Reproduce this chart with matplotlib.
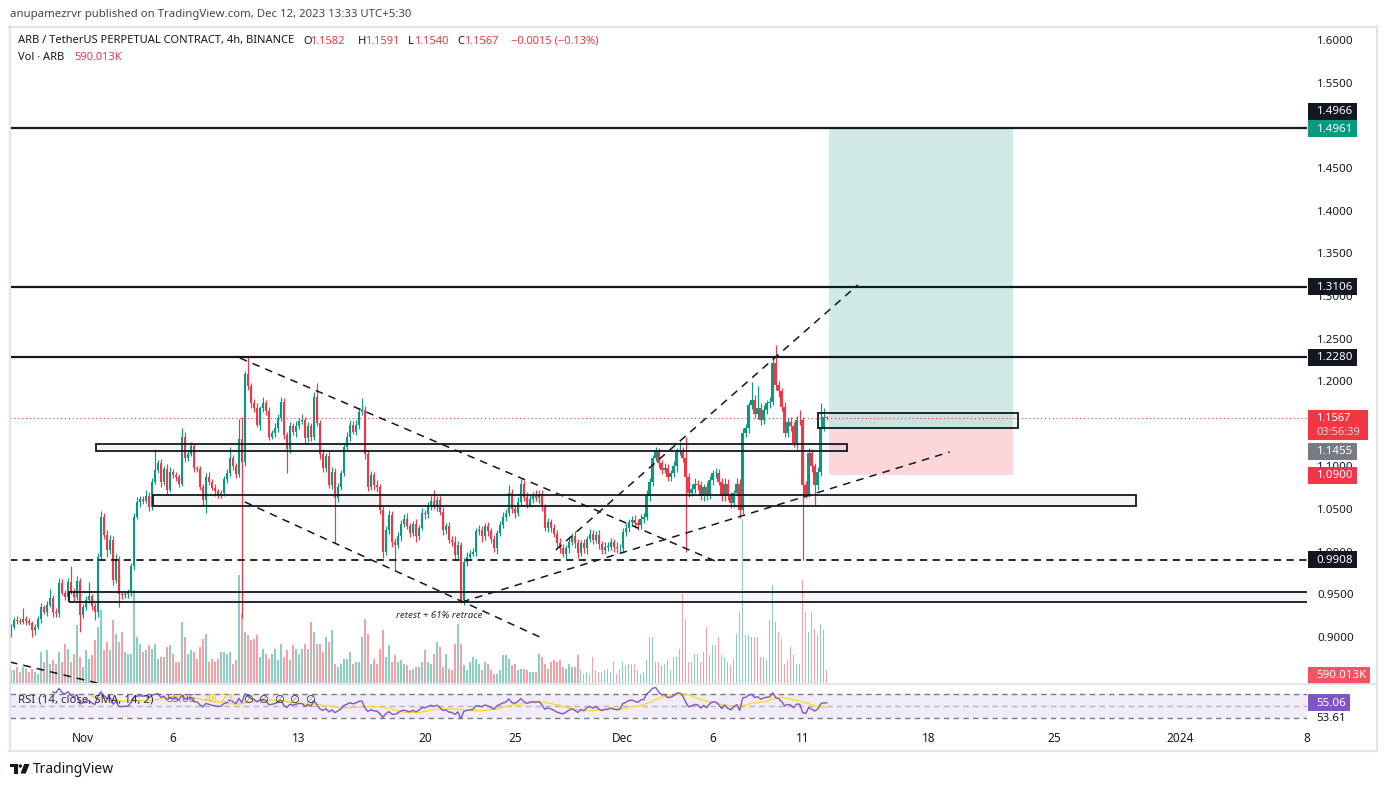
"""
ARB / USDT perpetual, 4h - TradingView style snapshot
"""

import numpy as np
import pandas as pd
import matplotlib
matplotlib.use("Agg")
import matplotlib.pyplot as plt
from matplotlib.patches import Rectangle, Circle, Polygon

plt.rcParams["font.family"] = ["Noto Sans", "DejaVu Sans"]

# ---- candle data (4h, first candle 2023-10-28 00:00 UTC) ----
first_open = 0.903
closes = [
    0.912, 0.920, 0.919, 0.918, 0.921, 0.919, 0.917, 0.908, 0.912, 0.921,
    0.935, 0.930, 0.938, 0.946, 0.930, 0.928, 0.963, 0.952, 0.947, 0.965,
    0.954, 0.947, 0.966, 0.926, 0.935, 0.943, 0.948, 0.936, 0.930, 0.994,
    1.041, 1.020, 1.002, 1.014, 0.967, 0.992, 0.950, 0.949, 0.951, 0.953,
    0.983, 1.041, 1.058, 1.062, 1.060, 1.066, 1.053, 1.082, 1.096, 1.104,
    1.082, 1.097, 1.073, 1.094, 1.090, 1.088, 1.080, 1.135, 1.110, 1.115,
    1.124, 1.098, 1.097, 1.076, 1.061, 1.088, 1.082, 1.075, 1.071, 1.067,
    1.069, 1.085, 1.092, 1.110, 1.101, 1.091, 1.132, 1.105, 1.209, 1.194,
    1.174, 1.168, 1.149, 1.168, 1.174, 1.165, 1.135, 1.139, 1.145, 1.157,
    1.176, 1.137, 1.120, 1.147, 1.140, 1.148, 1.153, 1.155, 1.133, 1.147,
    1.135, 1.182, 1.151, 1.115, 1.098, 1.112, 1.078, 1.094, 1.063, 1.076,
    1.092, 1.123, 1.135, 1.149, 1.141, 1.149, 1.164, 1.166, 1.115, 1.076,
    1.090, 1.078, 1.076, 1.049, 1.000, 1.026, 1.043, 1.012, 1.008, 1.018,
    1.033, 1.039, 1.030, 1.022, 1.033, 1.018, 1.028, 1.045, 1.044, 1.053,
    1.060, 1.053, 1.061, 1.047, 1.026, 1.030, 1.014, 1.012, 0.996, 1.008,
    0.944, 0.988, 0.994, 0.998, 1.000, 1.024, 1.025, 1.018, 1.030, 1.024,
    1.015, 1.004, 1.022, 1.031, 1.041, 1.046, 1.069, 1.050, 1.046, 1.058,
    1.080, 1.064, 1.055, 1.062, 1.066, 1.063, 1.068, 1.053, 1.028, 1.035,
    1.028, 1.021, 1.010, 1.004, 0.998, 1.004, 1.012, 1.018, 1.010, 0.999,
    1.010, 1.004, 1.015, 1.021, 1.014, 1.020, 1.009, 1.002, 1.006, 1.006,
    1.011, 1.006, 1.004, 1.005, 1.023, 1.028, 1.035, 1.037, 1.034, 1.031,
    1.039, 1.041, 1.066, 1.082, 1.110, 1.117, 1.104, 1.096, 1.098, 1.088,
    1.092, 1.100, 1.117, 1.118, 1.110, 1.088, 1.069, 1.074, 1.080, 1.078,
    1.065, 1.076, 1.066, 1.084, 1.092, 1.092, 1.082, 1.065, 1.080, 1.065,
    1.057, 1.069, 1.080, 1.049, 1.139, 1.145, 1.172, 1.178, 1.161, 1.169,
    1.155, 1.166, 1.174, 1.176, 1.221, 1.195, 1.188, 1.170, 1.139, 1.152,
    1.147, 1.127, 1.155, 1.154, 1.078, 1.068, 1.116, 1.100, 1.078, 1.094,
    1.146, 1.1582, 1.1567,
]
# wick lengths beyond the body, in thousandths of USDT
wick_up = [
    3, 4, 5, 3, 13, 4, 3, 2, 3, 4,
    5, 3, 4, 10, 3, 4, 6, 5, 3, 4,
    18, 3, 6, 3, 4, 5, 17, 3, 4, 5,
    7, 4, 5, 6, 4, 5, 3, 4, 3, 3,
    4, 5, 6, 4, 3, 6, 4, 5, 24, 4,
    5, 4, 6, 5, 3, 4, 3, 10, 6, 4,
    5, 4, 3, 4, 3, 4, 5, 3, 4, 3,
    3, 4, 5, 13, 4, 3, 24, 26, 3, 19,
    4, 5, 6, 3, 7, 4, 5, 4, 6, 5,
    6, 4, 3, 5, 4, 5, 4, 6, 3, 5,
    4, 5, 16, 4, 5, 4, 6, 5, 4, 5,
    4, 5, 6, 5, 4, 6, 5, 14, 5, 4,
    5, 4, 6, 4, 5, 4, 6, 5, 4, 5,
    4, 5, 6, 4, 3, 5, 4, 6, 4, 5,
    5, 12, 4, 5, 6, 4, 5, 4, 6, 5,
    4, 5, 6, 4, 5, 4, 6, 5, 4, 5,
    4, 5, 4, 5, 6, 4, 9, 5, 4, 6,
    5, 4, 6, 5, 4, 6, 5, 4, 3, 5,
    4, 5, 4, 6, 5, 4, 5, 4, 6, 5,
    4, 5, 4, 6, 5, 4, 5, 4, 6, 5,
    5, 4, 6, 4, 5, 6, 4, 5, 6, 4,
    5, 4, 6, 5, 4, 6, 5, 4, 6, 5,
    4, 6, 5, 11, 5, 24, 4, 5, 6, 4,
    5, 4, 6, 5, 4, 6, 5, 4, 6, 5,
    5, 4, 6, 5, 6, 5, 4, 21, 6, 25,
    5, 6, 4, 5, 6, 22, 5, 4, 6, 5,
    6, 5, 4, 11, 4, 5, 6, 5, 4, 5,
    28, 10, 0.9,
]
wick_dn = [
    3, 2, 4, 3, 3, 5, 3, 8, 6, 3,
    4, 3, 5, 3, 6, 5, 4, 3, 4, 5,
    4, 5, 3, 20, 4, 3, 3, 4, 10, 6,
    3, 5, 8, 4, 6, 4, 15, 4, 3, 5,
    5, 4, 3, 5, 4, 3, 5, 4, 3, 4,
    6, 4, 5, 3, 4, 5, 4, 3, 5, 4,
    3, 5, 4, 3, 6, 16, 4, 3, 5, 4,
    4, 3, 4, 3, 5, 4, 3, 183, 5, 4,
    5, 4, 3, 6, 4, 5, 4, 3, 5, 4,
    4, 5, 28, 4, 3, 5, 4, 3, 6, 4,
    5, 4, 3, 6, 4, 5, 3, 4, 53, 5,
    4, 3, 4, 5, 3, 4, 5, 4, 6, 5,
    4, 5, 6, 5, 7, 4, 5, 6, 29, 4,
    5, 4, 3, 5, 4, 6, 4, 3, 5, 4,
    4, 3, 5, 4, 6, 5, 4, 5, 6, 4,
    4, 6, 5, 4, 3, 5, 4, 6, 4, 5,
    5, 4, 6, 4, 3, 5, 4, 5, 6, 4,
    4, 5, 4, 3, 5, 4, 6, 5, 4, 5,
    5, 4, 6, 5, 4, 6, 5, 4, 5, 6,
    4, 5, 6, 4, 5, 4, 6, 5, 4, 5,
    4, 6, 5, 4, 5, 4, 5, 4, 6, 5,
    4, 5, 4, 6, 5, 4, 6, 5, 4, 5,
    5, 4, 6, 4, 5, 88, 5, 4, 5, 6,
    4, 6, 5, 4, 6, 5, 4, 6, 5, 4,
    6, 5, 4, 9, 5, 4, 6, 5, 4, 5,
    6, 5, 4, 5, 4, 5, 6, 5, 4, 5,
    5, 4, 6, 5, 88, 5, 4, 6, 23, 5,
    5, 4, 2.7,
]
# volume, thousands of ARB
volume_k = [
    585, 585, 720, 495, 720, 630, 495, 630, 495, 405,
    1395, 945, 1485, 855, 1035, 855, 1395, 945, 1755, 1530,
    945, 1305, 2610, 1170, 720, 1485, 1080, 1260, 1935, 2520,
    3285, 1485, 1845, 1485, 2835, 2205, 1845, 2295, 1395, 1305,
    1305, 4185, 2070, 1755, 1395, 1485, 1710, 1530, 1755, 1080,
    1170, 1170, 1620, 1710, 1305, 945, 945, 2745, 2070, 1305,
    1485, 1395, 1080, 1620, 1980, 2205, 945, 1080, 945, 1080,
    1395, 1395, 1305, 1395, 855, 1035, 4860, 3150, 2295, 2160,
    1935, 1980, 2160, 1170, 1530, 1305, 1080, 1305, 1530, 1035,
    1755, 1170, 1485, 1035, 1710, 1530, 1305, 1530, 1755, 1530,
    2745, 2295, 1755, 1755, 1395, 2070, 1845, 2385, 855, 720,
    855, 1080, 1080, 1395, 855, 945, 945, 2070, 2880, 2205,
    855, 1080, 855, 1530, 2385, 1170, 1710, 945, 1260, 945,
    1035, 855, 810, 585, 630, 720, 720, 945, 1485, 945,
    855, 1305, 1845, 1620, 720, 1305, 630, 585, 1755, 2655,
    1755, 810, 585, 945, 1170, 1080, 855, 585, 945, 855,
    585, 405, 405, 585, 1260, 1260, 1080, 810, 855, 585,
    630, 630, 585, 495, 495, 495, 1305, 1170, 855, 630,
    945, 1035, 945, 1035, 720, 630, 855, 720, 720, 1260,
    585, 405, 495, 405, 1170, 585, 495, 495, 585, 630,
    495, 945, 405, 630, 945, 810, 855, 855, 855, 585,
    405, 495, 1035, 2070, 2070, 945, 945, 810, 855, 1035,
    585, 1170, 1170, 1530, 4005, 2880, 945, 945, 1305, 1305,
    945, 1395, 2520, 1260, 1710, 1710, 2070, 1260, 1170, 945,
    810, 1080, 2205, 3195, 7380, 2160, 2160, 2070, 2070, 2070,
    1170, 1170, 1035, 2835, 4410, 2745, 2295, 1980, 855, 1035,
    1620, 1260, 855, 855, 4635, 3195, 2295, 3195, 2430, 2160,
    2655, 2385, 590.013,
]

# ---- drawings (x = days since 2023-11-01 00:00, y = price) ----
solid_levels = [1.4966, 1.3106, 1.2280]
dashed_level = 0.9908
last_price = 1.1567
zones = [  # x0, x1, low, high
    (0.72, 42.44, 1.1180, 1.1264),
    (3.89, 58.50, 1.0537, 1.0666),
    (-0.78, 80.0, 0.9411, 0.9529),
    (40.83, 51.94, 1.1455, 1.1627),
]
trend_lines = [
    ((8.72, 1.2272), (35.39, 0.9869)),
    ((9.00, 1.0584), (25.39, 0.9001)),
    ((21.06, 0.9412), (48.17, 1.1170)),
    ((26.28, 1.0021), (43.06, 1.3128)),
    ((-4.06, 0.8708), (0.78, 0.8462)),
]
pos_x0, pos_x1 = 41.44, 51.67
pos_entry, pos_target, pos_stop = 1.1455, 1.4961, 1.0900
note_text = "retest + 61% retrace"
note_xy = (19.80, 0.9259)

# price-scale ticks (1.5000 and 1.1500 sit under the price tags)
price_ticks = [0.90, 0.95, 1.00, 1.05, 1.10, 1.20, 1.25, 1.30, 1.35, 1.40, 1.45, 1.55, 1.60]
tick_dates = ["2023-11-01", "2023-11-06", "2023-11-13", "2023-11-20", "2023-11-25",
              "2023-12-01", "2023-12-06", "2023-12-11", "2023-12-18", "2023-12-25",
              "2024-01-01", "2024-01-08"]
tick_names = ["Nov", "6", "13", "20", "25", "Dec", "6", "11", "18", "25", "2024", "8"]

UP, DOWN = "#089981", "#f23645"
TXT = "#131722"
W, H = 1386, 787
T0 = pd.Timestamp("2023-11-01")


def days(ts):
    return ((pd.DatetimeIndex(ts) - T0) / pd.Timedelta(days=1)).to_numpy(float)


def rect(x0, y0, x1, y1):
    return [x0 / W, 1 - y1 / H, (x1 - x0) / W, (y1 - y0) / H]


fig = plt.figure(figsize=(W / 100, H / 100), dpi=100)
fig.patch.set_facecolor("white")

X_LO, X_HI = (10 - 83) / 18, (1307.5 - 83) / 18
P_HI = 1.6 + 10 / 853
P_LO = P_HI - 653 / 853

vax = fig.add_axes(rect(10, 30, 1307, 683), zorder=0)
ax = fig.add_axes(rect(10, 30, 1307, 683), zorder=1, sharex=vax)
rax = fig.add_axes(rect(10, 685, 1307, 722), zorder=1, sharex=vax)
ax.patch.set_alpha(0)
for a in (vax, ax, rax):
    for s in a.spines.values():
        s.set_visible(False)
    a.tick_params(length=0)
vax.set_yticks([])
vax.tick_params(labelbottom=False)
ax.tick_params(labelbottom=False)

# ---- candles ----
t = pd.date_range("2023-10-28 00:00", periods=len(closes), freq="4h")
x = days(t)
c = np.array(closes)
o = np.r_[first_open, c[:-1]]
hi = np.maximum(o, c) + np.array(wick_up) / 1000
lo = np.minimum(o, c) - np.array(wick_dn) / 1000
cols = np.where(c >= o, UP, DOWN)

ax.vlines(x, lo, hi, colors=cols, lw=0.85, zorder=3)
ax.bar(x, np.maximum(np.abs(c - o), 0.0008), bottom=np.minimum(o, c),
       width=0.14, color=cols, lw=0, zorder=3.1)

vax.bar(x, volume_k, width=0.08, color=cols, alpha=0.48, lw=0)
vax.set_ylim(0, 653 * 45)

ax.set_xlim(X_LO, X_HI)
ax.set_ylim(P_LO, P_HI)

# ---- drawings ----
for lvl in solid_levels:
    ax.axhline(lvl, color=TXT, lw=1.6, zorder=4)
ax.axhline(dashed_level, color=TXT, lw=1.3, ls=(0, (4, 3)), zorder=4)
ax.axhline(last_price, color=DOWN, lw=0.8, ls=(0, (1, 2.5)), zorder=4)

ax.add_patch(Rectangle((pos_x0, pos_entry), pos_x1 - pos_x0, pos_target - pos_entry,
                       fc="#089981", alpha=0.19, lw=0, zorder=1))
ax.add_patch(Rectangle((pos_x0, pos_stop), pos_x1 - pos_x0, pos_entry - pos_stop,
                       fc="#f23645", alpha=0.2, lw=0, zorder=1))

for x0, x1, p0, p1 in zones:
    ax.add_patch(Rectangle((x0, p0), x1 - x0, p1 - p0, fc="#9e9e9e", alpha=0.1,
                           ec="none", zorder=2))
    ax.add_patch(Rectangle((x0, p0), x1 - x0, p1 - p0, fill=False,
                           ec=TXT, lw=1.3, zorder=4))

for (xa, pa), (xb, pb) in trend_lines:
    ax.plot([xa, xb], [pa, pb], color=TXT, lw=1.1, ls=(0, (5, 4)), zorder=4)

ax.text(note_xy[0], note_xy[1], note_text, fontsize=7, style="italic",
        color="#2a2e39", ha="center", va="center", zorder=5)

# price scale
ax.yaxis.tick_right()
ax.set_yticks(price_ticks)
ax.set_yticklabels([f"{v:.4f}" for v in price_ticks])
ax.tick_params(axis="y", pad=7.2, labelsize=8.3, labelcolor=TXT)

# ---- RSI pane ----
s = pd.Series(c)
d = s.diff()
gain = d.clip(lower=0).ewm(alpha=1 / 14, adjust=False, min_periods=14).mean()
loss = (-d.clip(upper=0)).ewm(alpha=1 / 14, adjust=False, min_periods=14).mean()
rsi = 100 - 100 / (1 + gain / loss)
rsi_ma = rsi.rolling(14).mean()

rax.axhspan(30, 70, color="#7e57c2", alpha=0.1, lw=0)
rax.axhline(70, color="#787b86", lw=1, ls=(0, (4, 3)))
rax.axhline(30, color="#787b86", lw=1, ls=(0, (4, 3)))
rax.axhline(50, color="#787b86", lw=1, ls=(0, (4, 3)), alpha=0.5)
rax.plot(x, rsi_ma, color="#fdd835", lw=1)
rax.plot(x, rsi, color="#7e57c2", lw=1)
rax.set_ylim(23.3, 85)
rax.set_yticks([])
rax.set_xticks(days(tick_dates))
rax.set_xticklabels(tick_names)
rax.tick_params(axis="x", pad=7, labelsize=8.5, labelcolor=TXT)
for lbl in rax.get_xticklabels():
    if lbl.get_text() == "2024":
        lbl.set_fontweight("bold")
rax.set_xlim(X_LO, X_HI)

# ---- overlay in pixel units ----
ov = fig.add_axes([0, 0, 1, 1], zorder=5)
ov.set_xlim(0, W)
ov.set_ylim(H, 0)
ov.axis("off")
ov.patch.set_visible(False)


def py(price, a=ax):
    disp = a.transData.transform((0, price))
    return ov.transData.inverted().transform(disp)[1]


# frame
fc = "#e0e3eb"
ov.plot([9.5, 9.5], [26, 751], color=fc, lw=1.5)
ov.plot([1376.5, 1376.5], [26, 751], color=fc, lw=1.5)
ov.plot([9, 1377], [26.5, 26.5], color=fc, lw=1.5)
ov.plot([9, 1377], [751, 751], color=fc, lw=1.5)
ov.plot([10, 1376], [684, 684], color=fc, lw=1.2)


def tag(yc, text, color, w=49, h=17, tc="white"):
    ov.add_patch(Rectangle((1308, yc - h / 2), w, h, fc=color, ec="none"))
    ov.text(1316.5, yc + 0.5, text, color=tc, fontsize=8.3, va="center", ha="left")


tag(py(1.4966) - 17, "1.4966", TXT)
tag(py(pos_target), "1.4961", UP)
tag(py(1.3106), "1.3106", TXT)
tag(py(1.2280), "1.2280", TXT)
y_last = py(last_price)
ov.add_patch(Rectangle((1308, y_last - 8.5), 60, 30, fc=DOWN, ec="none"))
ov.text(1316.5, y_last, "1.1567", color="white", fontsize=8.0, va="center")
ov.text(1316.5, y_last + 14.5, "03:56:39", color="#ffd0d4", fontsize=8.0, va="center")
tag(py(pos_entry) + 23.5, "1.1455", "#787b86")
tag(py(pos_stop), "1.0900", DOWN)
tag(py(dashed_level), "0.9908", TXT)
tag(675, "590.013K", "#f7525f", w=62)
tag(py(55.06, rax), "55.06", "#7e57c2", w=42)
ov.text(1316.5, 718.5, "53.61", color=TXT, fontsize=8.3, va="center")

# header and legends
ov.text(10, 14, "anupamezrvr published on TradingView.com, Dec 12, 2023 13:33 UTC+5:30",
        fontsize=8.2, color="#434651", va="center")
row = [(18, "ARB / TetherUS PERPETUAL CONTRACT, 4h, BINANCE", TXT),
       (303, "O", TXT), (310, "1.1582", DOWN),
       (358, "H", TXT), (365, "1.1591", DOWN),
       (408, "L", TXT), (414, "1.1540", DOWN),
       (457, "C", TXT), (464, "1.1567", DOWN),
       (511, "\u22120.0015 (\u22120.13%)", DOWN)]
for px, txt, col in row:
    ov.text(px, 41, txt, fontsize=8.0, color=col, va="center")
ov.text(18, 58, "Vol \u00b7 ARB", fontsize=8.0, color=TXT, va="center")
ov.text(74, 58, "590.013K", fontsize=8.0, color=DOWN, va="center")

rsi_row = [(18, "RSI (14, close, SMA, 14, 2)", "#2a2e39"),
           (166, "55.06", "#7e57c2"), (205, "48.23", "#f5d20a")]
for px, txt, col in rsi_row:
    ov.text(px, 700, txt, fontsize=8.2, color=col, va="center")
for k in range(5):
    ov.text(243 + 15.5 * k, 700, "\u2205", fontsize=8.2, color="#2a2e39", va="center",
            family=["DejaVu Sans"])

# TradingView logo
ov.add_patch(Rectangle((10, 764), 7.5, 3.2, fc=TXT, ec="none"))
ov.add_patch(Rectangle((14, 764), 3.5, 9.5, fc=TXT, ec="none"))
ov.add_patch(Circle((20.3, 766), 1.7, fc=TXT, ec="none"))
ov.add_patch(Polygon([(24.2, 764), (29.5, 764), (25.8, 773.5), (20.5, 773.5)],
                     closed=True, fc=TXT, ec="none"))
ov.text(33, 769.5, "TradingView", fontsize=10, color=TXT, va="center")

fig.savefig("out.png", dpi=100)
